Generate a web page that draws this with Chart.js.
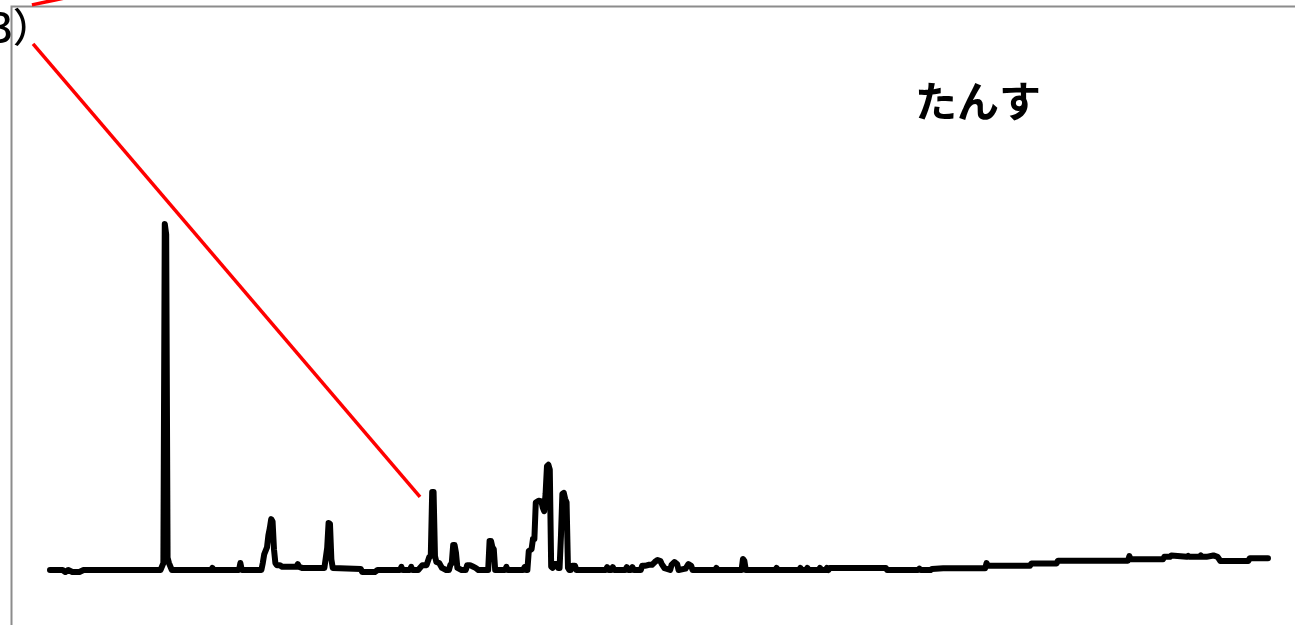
<!DOCTYPE html>
<html>
<head>
<meta charset="utf-8">
<script src="https://cdn.jsdelivr.net/npm/chart.js@4/dist/chart.umd.min.js"></script>
<style>
  html, body { margin: 0; padding: 0; background: #fff; }
  #wrap { width: 1295px; height: 625px; position: relative; }
</style>
</head>
<body>
<div id="wrap"><canvas id="chart"></canvas></div>
<script>
// search interest, week index vs relative value (peak = 100)
var weeks = [0, 9, 11, 13, 16, 21, 24, 79, 81, 82, 83, 84, 85, 87,
    115, 116, 117, 135, 136, 137,
    151, 152, 153, 155, 156, 157, 158, 159, 160, 161, 162, 164, 166, 176, 177, 178, 180,
    196, 198, 199, 200, 201, 202,
    222, 223, 232, 234, 250, 251, 252, 257, 258, 259,
    263, 266, 269, 271, 272, 273, 274, 275, 276, 278, 280, 283,
    285, 286, 287, 288, 289, 290, 291, 294, 297, 298, 300, 302, 304, 306,
    313, 314, 315, 316, 317, 318, 325, 326, 327,
    338, 339, 340, 341, 342, 344, 345, 346, 347, 349, 351, 352, 353, 354, 355, 356, 357, 358, 359,
    360, 362, 363, 364, 365, 366, 367, 368, 369, 370, 371,
    372, 373, 375, 376, 397, 398, 399, 401, 402, 403, 411, 412, 413, 415, 416, 417,
    422, 423, 425, 428, 430, 432, 434, 436, 437, 439, 443, 444, 446, 448, 449,
    454, 456, 458, 459, 475, 476, 477, 494, 495, 496, 497,
    518, 519, 520, 535, 536, 537, 540, 541, 542, 549, 550, 551, 554, 555, 556,
    557, 597, 598, 620, 621, 622, 629, 630, 638,
    668, 669, 670, 700, 701, 719, 720, 770, 771, 772, 795, 796, 800, 801,
    812, 813, 814, 821, 822, 823, 826, 831, 834, 836, 856, 857, 870];
var interest = [0, 0, -0.6, 0, -0.6, -0.6, 0, 0, 2, 100, 97, 3.5, 2, 0,
    0, 0.6, 0, 0, 2, 0,
    0, 2, 4.5, 6.5, 10, 12, 14.7, 14, 6, 2, 1.4, 1.4, 0.9, 0.9, 1.7, 0.9, 0.6,
    0.6, 6.4, 13.6, 13.3, 3, 0.6,
    0.3, -0.6, -0.6, 0, 0, 0.9, 0, 0, 0.9, 0,
    0, 1.4, 1.4, 3.8, 4, 22.5, 22.5, 4, 2.3, 2, 0.6, 0,
    0, 1.5, 2, 7.2, 7.2, 5, 0.6, 0, 0, 1.4, 1.4, 1, 0.6, 0,
    0, 8.4, 8.4, 6.6, 6, 0, 0, 0.9, 0,
    0, 0.8, 0, 0, 5.5, 6, 9, 9, 19.5, 20, 19.8, 18, 17, 22, 30, 30.4, 29, 1, 0.6,
    1.7, 1.7, 0.6, 0.6, 10, 22, 22.3, 20.5, 19.5, 0.6, 0,
    0, 1.2, 1.2, 0, 0, 0.8, 0, 0, 0.8, 0, 0, 0.8, 0, 0, 0.8, 0,
    0, 1.2, 1.2, 1.5, 1.5, 2.3, 2.9, 2.6, 1.7, 0.5, 0, 1.5, 2.3, 1.7, 0,
    0.4, 1.7, 1.2, 0, 0, 0.6, 0, 0, 3.2, 2.6, 0,
    0, 0.6, 0, 0, 0.6, 0, 0, 0.6, 0, 0, 0.6, 0, 0, 0.6, 0,
    0.6, 0.6, 0, 0, 0.4, 0, 0, 0.3, 0.5,
    0.5, 2, 1.2, 1.2, 1.9, 1.9, 2.7, 2.7, 4, 3.1, 3.1, 3.8, 3.8, 4.2,
    3.8, 4.1, 3.8, 3.8, 4.2, 3.8, 3.8, 4.2, 3.8, 2.6, 2.6, 3.4, 3.4];

// red pointer lines (annotation)
var pointerWeeks = [-12.1, 264.3];
var pointerValues = [152, 21.1];
var topPointerWeeks = [-12.9, 3.6, 14.3];
var topPointerValues = [163.3, 164.7, 165.6];

var title = 'たんす';
var cornerLabel = '3）';

function toPoints(xs, ys) {
    var out = [];
    for (var i = 0; i < xs.length; i++) {
        out.push({ x: xs[i], y: ys[i] });
    }
    return out;
}

var framePlugin = {
    id: 'frame',
    beforeDatasetsDraw: function (chart) {
        var ctx = chart.ctx;
        ctx.save();
        ctx.strokeStyle = '#8c8c8c';
        ctx.lineWidth = 2;
        ctx.beginPath();
        ctx.moveTo(11.5, 625);
        ctx.lineTo(11.5, 6.5);
        ctx.lineTo(1295, 6.5);
        ctx.stroke();
        ctx.restore();
    },
    afterDraw: function (chart) {
        var ctx = chart.ctx;
        ctx.save();
        ctx.fillStyle = '#000';
        ctx.font = 'bold 42px "Noto Sans CJK JP"';
        ctx.textAlign = 'center';
        ctx.textBaseline = 'middle';
        ctx.fillText(title, 978, 101);
        ctx.font = '500 40px "Noto Sans CJK JP"';
        ctx.textAlign = 'left';
        ctx.textBaseline = 'alphabetic';
        ctx.fillText(cornerLabel, -10, 42);
        ctx.restore();
    }
};

new Chart(document.getElementById('chart').getContext('2d'), {
    type: 'line',
    data: {
        datasets: [{
            data: toPoints(weeks, interest),
            borderColor: '#000',
            borderWidth: 6,
            borderJoinStyle: 'round',
            borderCapStyle: 'round',
            pointRadius: 0,
            tension: 0,
            fill: false
        }, {
            data: toPoints(pointerWeeks, pointerValues),
            borderColor: '#ff0000',
            borderWidth: 3.5,
            pointRadius: 0,
            tension: 0,
            fill: false
        }, {
            data: toPoints(topPointerWeeks, topPointerValues),
            borderColor: '#ff0000',
            borderWidth: 3.5,
            pointRadius: 0,
            tension: 0,
            fill: false
        }]
    },
    options: {
        responsive: true,
        maintainAspectRatio: false,
        animation: false,
        layout: { padding: 0 },
        plugins: {
            legend: { display: false },
            tooltip: { enabled: false }
        },
        scales: {
            x: { type: 'linear', min: -35.7, max: 889.3, display: false },
            y: { type: 'linear', min: -15.9, max: 164.7, display: false }
        }
    },
    plugins: [framePlugin]
});
</script>
</body>
</html>
